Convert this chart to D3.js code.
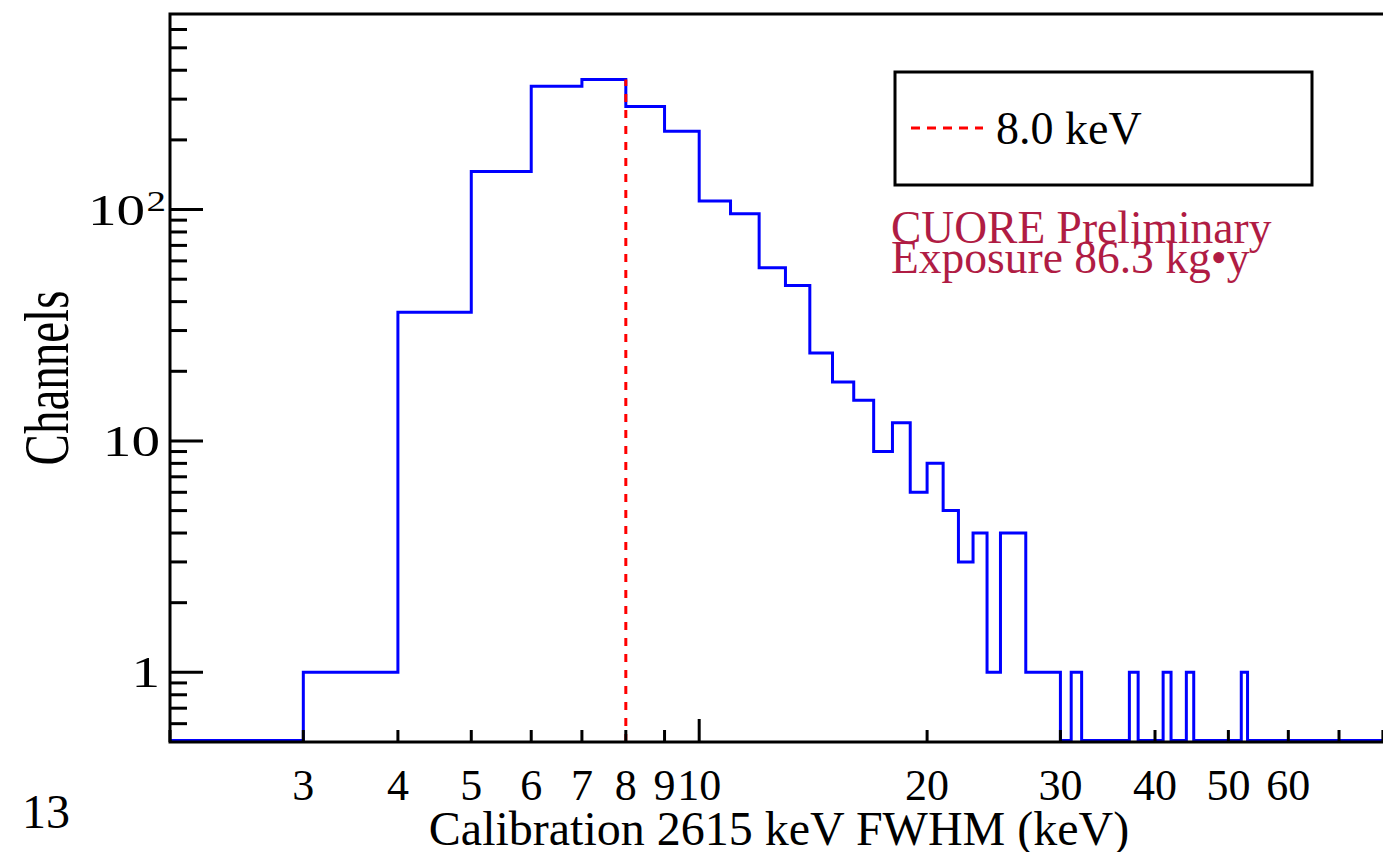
<!DOCTYPE html>
<html>
<head>
<meta charset="utf-8">
<script src="https://cdn.jsdelivr.net/npm/d3@7"></script>
<style>
  html, body { margin: 0; padding: 0; background: #fff; }
  svg { display: block; }
  text { font-family: "Liberation Serif", "Times New Roman", serif; }
</style>
</head>
<body>
<div id="chart"></div>
<script>
// Calibration FWHM distribution, 1 keV bins starting at 2 keV
const binStart = 2;
const binWidth = 1;
const counts = [
  0, 1, 36, 146, 341, 365, 279, 218, 109, 96,   // 2 .. 11
  56, 47, 24, 18, 15, 9, 12, 6, 8, 5,           // 12 .. 21
  3, 4, 1, 4, 4, 1, 1, 1, 0, 1,                 // 22 .. 31
  0, 0, 0, 0, 0, 1, 0, 0, 0, 1,                 // 32 .. 41
  0, 0, 1, 0, 0, 0, 0, 0, 0, 0,                 // 42 .. 51
  1, 0, 0, 0, 0, 0, 0, 0, 0, 0,                 // 52 .. 61
  0, 0, 0, 0, 0, 0, 0, 0, 0, 0,                 // 62 .. 71
  0, 0, 0, 0, 0, 0, 0, 0, 0                     // 72 .. 80
];

const xLabelTicks = [3, 4, 5, 6, 7, 8, 9, 10, 20, 30, 40, 50, 60];
const xMinorTicks = [2, 3, 4, 5, 6, 7, 8, 9, 20, 30, 40, 50, 60, 70, 80];
const xMajorTicks = [10];
const yMajorTicks = [1, 10, 100];
const yMinorTicks = [0.6, 0.7, 0.8, 0.9, 2, 3, 4, 5, 6, 7, 8, 9,
                     20, 30, 40, 50, 60, 70, 80, 90, 200, 300, 400, 500, 600];
const cutValue = 8.0;
const legendLabel = "8.0 keV";
const noteLines = ["CUORE Preliminary", "Exposure 86.3 kg\u2022y"];

const W = 1383, H = 852;
const plotLeft = 170, plotTop = 14, plotBottom = 742, plotRight = 1387;
// the y axis texts are a bit wider than tall in the original
const yStretch = 1.3;

const svg = d3.select('#chart')
  .append('svg')
  .attr('width', W)
  .attr('height', H);

const x = d3.scaleLog().domain([2, 81]).range([plotLeft, plotRight]);
const yMin = 0.5;
const y = d3.scaleLog().domain([yMin, 700]).range([plotBottom, plotTop]);

// histogram outline (empty bins sit on the frame bottom)
const floorY = y(yMin) - 1.5;
const pts = [];
counts.forEach((c, i) => {
  const lo = binStart + i * binWidth;
  const hi = lo + binWidth;
  const yv = c > 0 ? y(c) : floorY;
  pts.push([x(lo), yv], [x(hi), yv]);
});

svg.append('path')
  .attr('d', d3.line()(pts))
  .attr('fill', 'none')
  .attr('stroke', '#0000ff')
  .attr('stroke-width', 3)
  .attr('stroke-linejoin', 'miter');

// cut line
svg.append('line')
  .attr('x1', x(cutValue)).attr('x2', x(cutValue))
  .attr('y1', y(yMin)).attr('y2', y(d3.max(counts)))
  .attr('stroke', '#ff0000')
  .attr('stroke-width', 3)
  .attr('stroke-dasharray', '8,8');

// frame
svg.append('rect')
  .attr('x', plotLeft).attr('y', plotTop)
  .attr('width', plotRight - plotLeft).attr('height', plotBottom - plotTop)
  .attr('fill', 'none')
  .attr('stroke', '#000')
  .attr('stroke-width', 3);

// x ticks
const xt = svg.append('g').attr('stroke', '#000').attr('stroke-width', 3);
xMinorTicks.forEach(v => {
  xt.append('line').attr('x1', x(v)).attr('x2', x(v))
    .attr('y1', plotBottom).attr('y2', plotBottom - 12);
});
xMajorTicks.forEach(v => {
  xt.append('line').attr('x1', x(v)).attr('x2', x(v))
    .attr('y1', plotBottom).attr('y2', plotBottom - 23);
});

svg.append('g').selectAll('text')
  .data(xLabelTicks)
  .enter()
  .append('text')
  .attr('x', d => x(d))
  .attr('y', 800)
  .attr('text-anchor', 'middle')
  .style('font-size', '44px')
  .text(d => d);

// y ticks
const yt = svg.append('g').attr('stroke', '#000').attr('stroke-width', 3);
yMinorTicks.forEach(v => {
  yt.append('line').attr('x1', plotLeft).attr('x2', plotLeft + 17)
    .attr('y1', y(v)).attr('y2', y(v));
});
yMajorTicks.forEach(v => {
  yt.append('line').attr('x1', plotLeft).attr('x2', plotLeft + 33)
    .attr('y1', y(v)).attr('y2', y(v));
});

yMajorTicks.forEach(v => {
  const exp = Math.round(Math.log10(v));
  const t = svg.append('text')
    .attr('transform', `translate(${exp < 2 ? 160 : 166}, ${y(v) + 15}) scale(${yStretch}, 1)`)
    .attr('text-anchor', 'end')
    .style('font-size', '44px');
  if (exp < 2) {
    t.text(v);
  } else {
    t.append('tspan').text('10');
    t.append('tspan').attr('dy', -14).attr('dx', 1).style('font-size', '30px').text(exp);
  }
});

// axis titles
svg.append('text')
  .attr('x', 779)
  .attr('y', 845)
  .attr('text-anchor', 'middle')
  .style('font-size', '48px')
  .text('Calibration 2615 keV FWHM (keV)');

svg.append('text')
  .attr('transform', `translate(68, 378) scale(1.37, 1) rotate(-90)`)
  .attr('text-anchor', 'middle')
  .style('font-size', '47px')
  .text('Channels');

// page number
svg.append('text')
  .attr('x', 22)
  .attr('y', 828)
  .style('font-size', '48px')
  .text('13');

// legend
const lg = svg.append('g');
lg.append('rect')
  .attr('x', 895).attr('y', 72)
  .attr('width', 417).attr('height', 113)
  .attr('fill', '#fff')
  .attr('stroke', '#000')
  .attr('stroke-width', 3);
lg.append('line')
  .attr('x1', 911).attr('x2', 983)
  .attr('y1', 128).attr('y2', 128)
  .attr('stroke', '#ff0000')
  .attr('stroke-width', 3)
  .attr('stroke-dasharray', '9,7');
lg.append('text')
  .attr('x', 996).attr('y', 144)
  .style('font-size', '46px')
  .text(legendLabel);

// note
svg.append('g').selectAll('text')
  .data(noteLines)
  .enter()
  .append('text')
  .attr('x', 891)
  .attr('y', (d, i) => 243 + i * 30)
  .attr('fill', '#b01c44')
  .style('font-size', '45.5px')
  .text(d => d);
</script>
</body>
</html>
